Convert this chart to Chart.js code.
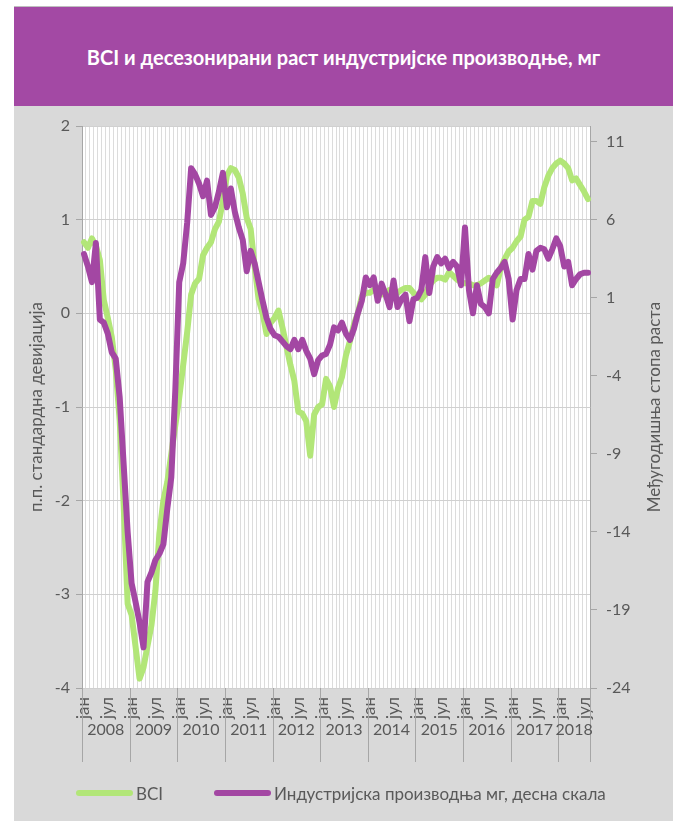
<!DOCTYPE html>
<html>
<head>
<meta charset="utf-8">
<script src="https://cdn.jsdelivr.net/npm/chart.js@4.4.0/dist/chart.umd.min.js"></script>
<style>
  body { margin: 0; background: #fff; font-family: Lato, "Noto Sans", sans-serif; }
  #panel { position: absolute; left: 14px; top: 6px; width: 659px; height: 815px; background: #d9d9d9; border-top: 1px solid #bfbfbf; }
  #head { height: 99px; background: #a349a4; color: #fff; font-weight: bold; font-size: 20px;
          display: flex; align-items: center; justify-content: center; }
  #wrap { position: relative; width: 659px; height: 715px; }
  .item { position: absolute; top: 775px; height: 22px; display: flex; align-items: center; color: #595959; font-size: 17px; white-space: nowrap; }
  .line { display: inline-block; width: 57px; height: 6px; border-radius: 3px; margin-right: 3px; }
</style>
</head>
<body>
<div id="panel">
  <div id="head">BCI и десезонирани раст индустријске производње, мг</div>
  <div id="wrap"><canvas id="chart" width="659" height="715"></canvas></div>
  <div class="item" style="left:62px"><span class="line" style="background:#b2e678"></span>BCI</div>
  <div class="item" style="left:200px"><span class="line" style="background:#a347a3"></span>Индустријска производња мг, десна скала</div>
</div>
<script>
const monthNames = ['јан','феб','мар','апр','мај','јун','јул','авг','сеп','окт','нов','дец'];
const years = [2008, 2009, 2010, 2011, 2012, 2013, 2014, 2015, 2016, 2017, 2018];
const lastYearMonths = 8;

// BCI, standard deviations (left scale)
const bci = [
  0.76, 0.70, 0.80, 0.72, 0.57, 0.14, -0.05, -0.25, -0.60, -1.15, -2.05, -3.10,
  -3.22, -3.56, -3.90, -3.78, -3.55, -3.33, -2.96, -2.35, -2.00, -1.80, -1.50, -1.20,
  -0.90, -0.55, -0.20, 0.20, 0.32, 0.37, 0.62, 0.70, 0.76, 0.90, 0.98, 1.20,
  1.47, 1.55, 1.53, 1.45, 1.28, 1.02, 0.90, 0.50, 0.15, 0.00, -0.22, -0.10,
  -0.05, 0.03, -0.15, -0.35, -0.55, -0.72, -1.05, -1.07, -1.15, -1.52, -1.08, -1.00,
  -0.97, -0.70, -0.78, -1.00, -0.80, -0.68, -0.45, -0.30, -0.12, 0.00, 0.18, 0.22,
  0.22, 0.25, 0.22, 0.20, 0.22, 0.25, 0.20, 0.22, 0.25, 0.27, 0.27, 0.22,
  0.18, 0.15, 0.20, 0.30, 0.35, 0.38, 0.38, 0.36, 0.44, 0.40, 0.36, 0.33,
  0.32, 0.32, 0.30, 0.30, 0.32, 0.35, 0.38, 0.35, 0.30, 0.48, 0.58, 0.66,
  0.70, 0.77, 0.82, 1.00, 1.03, 1.20, 1.20, 1.17, 1.35, 1.47, 1.55, 1.60,
  1.63, 1.60, 1.55, 1.42, 1.44, 1.37, 1.30, 1.22
];

// industrial production y-o-y, % (right scale)
const industry = [
  3.8, 3.0, 2.0, 4.5, -0.4, -0.6, -1.3, -2.5, -2.9, -5.4, -9.7, -14.0,
  -17.3, -18.5, -19.8, -21.4, -17.2, -16.6, -15.8, -15.4, -14.8, -12.5, -10.5, -5.0,
  2.0, 3.2, 5.8, 9.3, 8.9, 8.3, 7.5, 8.5, 6.3, 6.8, 7.8, 9.0,
  6.8, 8.0, 6.5, 5.5, 4.7, 2.7, 4.0, 3.2, 2.0, 0.8, -0.3, -1.0,
  -1.4, -1.5, -1.8, -2.1, -2.3, -1.7, -2.3, -1.7, -2.4, -2.9, -3.9, -3.0,
  -2.7, -2.6, -2.0, -0.9, -1.1, -0.6, -1.3, -1.7, -1.0, 0.0, 0.8, 2.3,
  1.8, 2.3, 0.8, 1.9, 1.2, 0.4, 2.1, 0.4, 0.9, 1.2, -0.5, 0.9,
  1.0, 1.5, 3.6, 1.3, 3.0, 3.6, 3.2, 3.5, 2.9, 3.3, 3.0, 1.8,
  5.5, 1.5, 0.0, 1.8, 0.6, 0.4, 0.0, 2.2, 2.6, 2.9, 3.3, 2.2,
  -0.4, 1.5, 2.2, 2.2, 3.8, 2.8, 4.0, 4.2, 4.1, 3.5, 4.1, 4.8,
  4.3, 3.0, 3.3, 1.8, 2.2, 2.5, 2.6, 2.6
];

const rightTicks = [-24, -19, -14, -9, -4, 1, 6, 11];

const labels = [];
years.forEach((y, k) => {
  const n = k === years.length - 1 ? lastYearMonths : 12;
  for (let m = 0; m < n; m++) labels.push(monthNames[m] + ' ' + y);
});

const FONT = 'Lato, "Noto Sans", sans-serif';
const TXT = '#595959';

const plotBg = {
  id: 'plotBg',
  beforeDraw(chart) {
    const a = chart.chartArea, ctx = chart.ctx;
    ctx.save();
    ctx.fillStyle = '#fff';
    ctx.fillRect(a.left, a.top, a.right - a.left, a.bottom - a.top);
    ctx.restore();
  }
};

// year row under the month labels + right axis title
const yearAxis = {
  id: 'yearAxis',
  afterDraw(chart) {
    const ctx = chart.ctx, x = chart.scales.x, a = chart.chartArea;
    const half = (x.getPixelForValue(1) - x.getPixelForValue(0)) / 2;
    ctx.save();
    ctx.strokeStyle = '#a6a6a6';
    ctx.lineWidth = 1;
    ctx.fillStyle = TXT;
    ctx.font = '16px ' + FONT;
    ctx.textAlign = 'center';
    ctx.textBaseline = 'middle';
    let start = 0;
    years.forEach((y, k) => {
      const n = k === years.length - 1 ? lastYearMonths : 12;
      const x0 = x.getPixelForValue(start) - half;
      const x1 = x.getPixelForValue(start + n - 1) + half;
      ctx.beginPath();
      ctx.moveTo(Math.round(x0) + 0.5, a.bottom);
      ctx.lineTo(Math.round(x0) + 0.5, a.bottom + 74);
      ctx.stroke();
      if (k === years.length - 1) {
        ctx.beginPath();
        ctx.moveTo(Math.round(x1) + 0.5, a.bottom);
        ctx.lineTo(Math.round(x1) + 0.5, a.bottom + 74);
        ctx.stroke();
      }
      ctx.fillText(String(y), (x0 + x1) / 2, a.bottom + 42);
      start += n;
    });
    // right axis title, reading bottom to top like the left one
    ctx.font = '17px ' + FONT;
    ctx.translate(641, (a.top + a.bottom) / 2);
    ctx.rotate(-Math.PI / 2);
    ctx.fillText('Међугодишња стопа раста', 0, 0);
    ctx.restore();
  }
};

new Chart(document.getElementById('chart'), {
  type: 'line',
  data: {
    labels: labels,
    datasets: [
      {
        label: 'BCI',
        data: bci,
        yAxisID: 'y',
        borderColor: '#b2e678',
        backgroundColor: '#b2e678',
        borderWidth: 6,
        pointRadius: 0,
        borderJoinStyle: 'round',
        borderCapStyle: 'round',
        order: 2
      },
      {
        label: 'Индустријска производња мг, десна скала',
        data: industry,
        yAxisID: 'y2',
        borderColor: '#a347a3',
        backgroundColor: '#a347a3',
        borderWidth: 6,
        pointRadius: 0,
        borderJoinStyle: 'round',
        borderCapStyle: 'round',
        order: 1
      }
    ]
  },
  options: {
    responsive: false,
    animation: false,
    layout: { padding: { top: 20, bottom: 46, left: 0, right: 0 } },
    plugins: { legend: { display: false }, tooltip: { enabled: false } },
    scales: {
      x: {
        offset: true,
        grid: { offset: true, color: '#dcdcdc', drawTicks: false },
        border: { display: false },
        ticks: {
          autoSkip: false, minRotation: 90, maxRotation: 90, padding: 9,
          color: TXT, font: { family: FONT, size: 17 },
          callback: (v, i) => (i % 12 === 0 ? 'јан' : i % 12 === 6 ? 'јул' : '')
        },
        afterFit: s => { s.height = 87; }
      },
      y: {
        position: 'left',
        min: -4, max: 2,
        ticks: { stepSize: 1, padding: 6, color: TXT, font: { family: FONT, size: 16 } },
        grid: { color: '#d0d0d0', tickLength: 6, tickColor: '#a6a6a6' },
        border: { color: '#a6a6a6' },
        title: { display: true, text: 'п.п. стандардна девијација', color: TXT,
                 font: { family: FONT, size: 17 }, padding: { top: 12, bottom: 0 } },
        afterFit: s => { s.width = 68; }
      },
      y2: {
        position: 'right',
        min: -24, max: 12,
        afterBuildTicks: s => { s.ticks = rightTicks.map(v => ({ value: v })); },
        ticks: { padding: 9, color: TXT, font: { family: FONT, size: 16 } },
        grid: { drawOnChartArea: false, tickLength: 7, tickColor: '#a6a6a6' },
        border: { color: '#a6a6a6' },
        afterFit: s => { s.width = 83; }
      }
    }
  },
  plugins: [plotBg, yearAxis]
});
</script>
</body>
</html>
